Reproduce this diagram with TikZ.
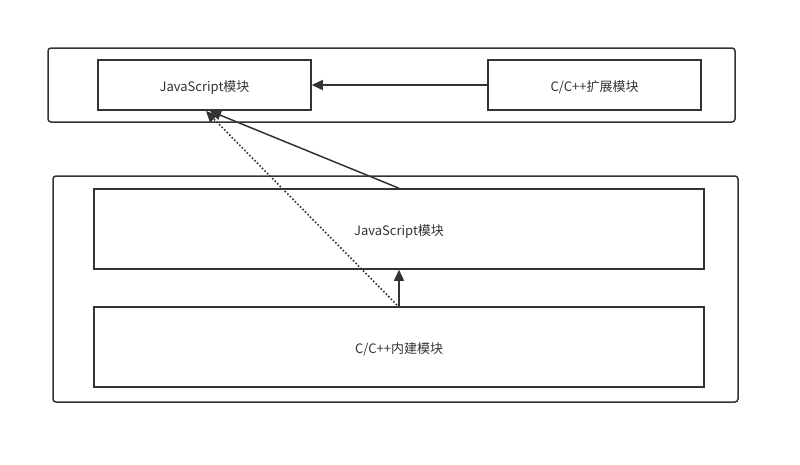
\documentclass[tikz,border=0pt]{standalone}
\usepackage{fontspec}
\setmainfont{Noto Sans CJK SC}
\usetikzlibrary{arrows.meta}
\definecolor{ln}{HTML}{333333}
\begin{document}
\begin{tikzpicture}[x=1pt,y=-1pt,
  outer/.style={draw=ln,line width=1.5pt,rounded corners=3pt},
  box/.style={draw=ln,line width=1.5pt,font=\fontsize{13}{15}\selectfont,text=ln,text height=12.5pt,text depth=0.5pt,inner sep=0pt},
  arr/.style={draw=ln,line width=1.5pt,-{Triangle[length=11pt,width=10pt]}},
  darr/.style={draw=ln,line width=1.6pt,dotted,-{Triangle[length=11pt,width=10pt]}}]
\useasboundingbox (0,0) rectangle (800,464);
\draw[outer] (48,48) rectangle (735,122);
\draw[outer] (53,176) rectangle (738,402);
\node[box,minimum width=213pt,minimum height=50pt] (js1) at (204.5,85) {JavaScript模块};
\node[box,minimum width=213pt,minimum height=50pt] (ext) at (594.5,85) {C/C++扩展模块};
\node[box,minimum width=610pt,minimum height=80pt] (js2) at (399,229) {JavaScript模块};
\node[box,minimum width=610pt,minimum height=80pt] (cpp) at (399,347) {C/C++内建模块};
\coordinate (t1) at (210,111);
\coordinate (t2) at (206,111);
\coordinate (s2) at (397,305);
\draw[arr] (ext.west) -- (js1.east);
\draw[arr] (cpp.north) -- (js2.south);
\draw[arr] (js2.north) -- (t1);
\draw[darr] (s2) -- (t2);
\end{tikzpicture}
\end{document}
